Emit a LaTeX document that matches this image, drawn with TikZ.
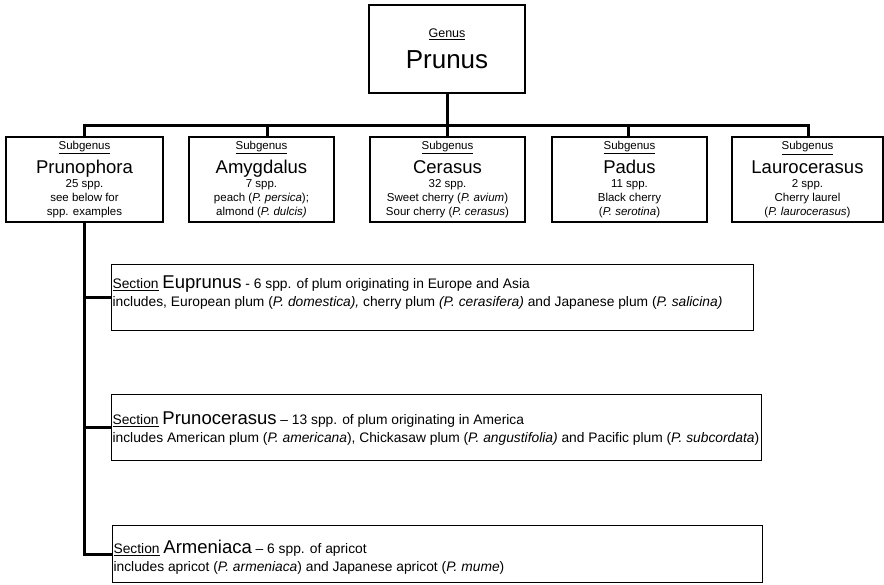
\documentclass[tikz,border=0pt]{standalone}
\usepackage{fontspec}
\setmainfont{Liberation Sans}
\usetikzlibrary{positioning}
\newcommand{\rank}[1]{\underline{#1}}
\newcommand{\taxon}[1]{{\fontsize{18.5}{20}\selectfont #1}}
\tikzset{
  genusbox/.style={draw,line width=1.2pt,align=center,inner sep=0pt,
    minimum width=156pt,minimum height=88pt},
  subbox/.style={draw,line width=1.2pt,align=center,inner sep=0pt,
    minimum height=85pt,font=\fontsize{11.5}{14}\selectfont},
  sectbox/.style={draw,line width=1.2pt,anchor=north west,inner sep=0pt,
    font=\fontsize{13.8}{18}\selectfont},
  branch/.style={line width=3pt}
}

\begin{document}
\begin{tikzpicture}[x=1pt,y=-1pt]
  \fill[white] (0,0) rectangle (884,584);
  \useasboundingbox (0,0) rectangle (884,584);

  \node[genusbox] (genus) at (447,49)
    {{\fontsize{12.5}{14}\selectfont\rank{Genus}}\\[10pt]{\fontsize{26}{28}\selectfont Prunus}};

  \node[subbox,minimum width=157pt] (prunophora) at (84.5,179.5)
    {\rank{Subgenus}\\[5pt]\taxon{Prunophora}\\25 spp.\\see below for\\spp. examples};
  \node[subbox,minimum width=145pt] (amygdalus) at (261.5,179.5)
    {\rank{Subgenus}\\[5pt]\taxon{Amygdalus}\\7 spp.\\peach (\textit{P. persica});\\almond (\textit{P. dulcis)}};
  \node[subbox,minimum width=155pt] (cerasus) at (447.5,179.5)
    {\rank{Subgenus}\\[5pt]\taxon{Cerasus}\\32 spp.\\Sweet cherry (\textit{P. avium})\\Sour cherry (\textit{P. cerasus})};
  \node[subbox,minimum width=155pt] (padus) at (629.5,179.5)
    {\rank{Subgenus}\\[5pt]\taxon{Padus}\\11 spp.\\Black cherry\\(\textit{P. serotina})};
  \node[subbox,minimum width=151pt] (laurocerasus) at (807.5,179.5)
    {\rank{Subgenus}\\[5pt]\taxon{Laurocerasus}\\2 spp.\\Cherry laurel\\(\textit{P. laurocerasus})};

  \node[sectbox] (euprunus) at (111,264)
    {\parbox[t][66pt][t]{642pt}{\hspace*{1pt}\rule{0pt}{24pt}\rank{Section} \taxon{Euprunus} - 6 spp. of plum originating in Europe and Asia\\
     \hspace*{1pt}includes, European plum (\textit{P. domestica),} cherry plum \textit{(P. cerasifera)} and Japanese plum (\textit{P. salicina)}}};
  \node[sectbox] (prunocerasus) at (111,394)
    {\parbox[t][66pt][t]{650pt}{\hspace*{1pt}\rule{0pt}{30pt}\rank{Section} \taxon{Prunocerasus} -- 13 spp. of plum originating in America\\
     \hspace*{1pt}includes American plum (\textit{P. americana}), Chickasaw plum (\textit{P. angustifolia)} and Pacific plum (\textit{P. subcordata})}};
  \node[sectbox] (armeniaca) at (112,525)
    {\parbox[t][57pt][t]{650pt}{\hspace*{1pt}\rule{0pt}{28pt}\rank{Section} \taxon{Armeniaca} -- 6 spp. of apricot\\
     \hspace*{1pt}includes apricot (\textit{P. armeniaca}) and Japanese apricot (\textit{P. mume})}};

  % genus to subgenera
  \coordinate (bar) at (447,125);
  \draw[branch] (genus.south) -- (genus.south |- bar);
  \foreach \n/\dx in {prunophora/0,amygdalus/6,cerasus/0,padus/-1,laurocerasus/1}
    \draw[branch] (genus.south |- bar) -| ([xshift=\dx pt]\n.north);

  % Prunophora to sections
  \draw[branch] (prunophora.south) |- (armeniaca.west);
  \foreach \s in {euprunus,prunocerasus}
    \draw[branch] (prunophora.south |- \s.west) -- (\s.west);
\end{tikzpicture}
\end{document}
